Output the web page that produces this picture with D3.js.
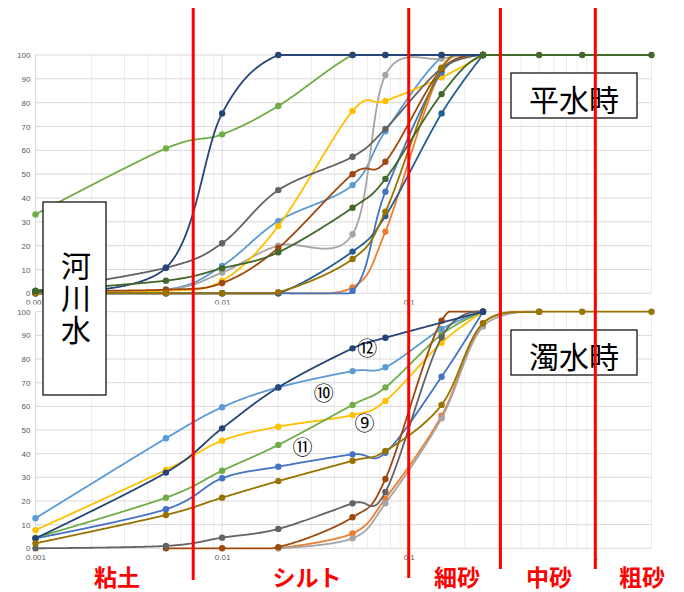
<!DOCTYPE html>
<html><head><meta charset="utf-8">
<script src="https://cdn.jsdelivr.net/npm/d3@7"></script>
<style>html,body{margin:0;padding:0;background:#fff;}svg{display:block;}</style>
</head><body>
<script>
// ---- data ----
const sizes = [0.001, 0.005, 0.01, 0.02, 0.05, 0.075, 0.15, 0.25, 0.5, 0.85, 2];
const yTicks = [0,10,20,30,40,50,60,70,80,90,100];
const xTickVals = [0.001, 0.01, 0.1, 1];
const xTickLabels = ["0.001", "0.01", "0.1", "1"];
const colors = {
  lightBlue:"#5B9BD5", orange:"#ED7D31", lightGray:"#A5A5A5", gold:"#FFC000",
  blue:"#4472C4", green:"#70AD47", darkBlue:"#255E91", brown:"#9E480E",
  darkGray:"#636363", olive:"#997300", navy:"#264478", darkGreen:"#43682B"
};
// 平水時 (normal flow)
const normalLightBlue = [0, 1.5, 11.5, 30.3, 45.4, 68, 99, 100];
const normalOrange    = [0, 0, 0, 0, 2.5, 25.9, 94, 100];
const normalLightGray = [0.5, 1.5, 8.7, 20, 24.8, 91.6, 98.5, 100];
const normalGold      = [0.5, 1, 5.3, 28.2, 76.5, 80.7, 90.6, 100];
const normalBlue      = [0, 0, 0, 0, 1, 42.6, 92.7, 100];
const normalGreen     = [33.1, 60.8, 66.7, 78.6, 100, 100, 100, 100];
const normalDarkBlue  = [0, 0, 0, 0, 17.5, 32.4, 75.5, 100];
const normalBrown     = [1, 1.5, 4.3, 19, 50, 55.2, 94, 100];
const normalDarkGray  = [1, 10.7, 21, 43.3, 57.3, 69, 94.4, 100];
const normalOlive     = [0, 0, 0, 0.5, 14.4, 34.2, 94.7, 100];
const normalNavy      = [1, 10.7, 75.5, 100, 100, 100, 100, 100];
const normalDarkGreen = [1, 5.3, 10.5, 17.2, 35.9, 48, 83.6, 100, 100, 100, 100];
// 濁水時 (turbid flow)
const turbidLightBlue = [12.7, 46.5, 59.6, 68, 74.9, 76.5, 92.7, 100];
const turbidOrange    = [null, null, null, 0, 6.3, 21, 56, 95, 100];
const turbidLightGray = [null, null, null, 0, 4.2, 19, 55, 93.7, 100];
const turbidGold      = [7.7, 33.1, 45.5, 51.4, 56.3, 62.3, 86.9, 100];
const turbidBlue      = [4.2, 16.5, 29.6, 34.5, 39.7, 40.4, 72.5, 100];
const turbidGreen     = [4.5, 21.4, 32.8, 43.7, 60.6, 68, 90.4, 100];
const turbidBrown     = [null, 0, 0, 0.5, 13.1, 29.3, 96.2, 100];
const turbidDarkGray  = [0, 1, 4.5, 8.2, 19, 23.8, 89.2, 100];
const turbidNavy      = [4.2, 32, 50.7, 68, 84.5, 89, null, 100];
const turbidOlive     = [2.1, 14.1, 21.4, 28.4, 37, 41.1, 60.6, 95.1, 100, 100, 100];

const normalSeries = [
  [normalLightBlue, colors.lightBlue], [normalOrange, colors.orange], [normalLightGray, colors.lightGray],
  [normalGold, colors.gold], [normalBlue, colors.blue], [normalGreen, colors.green],
  [normalDarkBlue, colors.darkBlue], [normalBrown, colors.brown], [normalDarkGray, colors.darkGray],
  [normalOlive, colors.olive], [normalNavy, colors.navy], [normalDarkGreen, colors.darkGreen]
];
const turbidSeries = [
  [turbidLightBlue, colors.lightBlue], [turbidOrange, colors.orange], [turbidLightGray, colors.lightGray],
  [turbidGold, colors.gold], [turbidBlue, colors.blue], [turbidGreen, colors.green],
  [turbidBrown, colors.brown], [turbidDarkGray, colors.darkGray], [turbidNavy, colors.navy],
  [turbidOlive, colors.olive]
];
const classBounds = [0.007, 0.1, 0.31, 1];
const classNames = ["粘土", "シルト", "細砂", "中砂", "粗砂"];
const circledLabels = [["⑫", 0.06, 85], ["⑩", 0.035, 66], ["⑨", 0.058, 53], ["⑪", 0.027, 43]];

// ---- drawing ----
const W = 684, H = 592;
const svg = d3.select("body").append("svg").attr("width", W).attr("height", H);
const x = d3.scaleLog().domain([0.001, 2]).range([35.5, 651.5]);
const panels = [
  {series: normalSeries, y: d3.scaleLinear().domain([0,100]).range([293.3, 55]), title:"平水時", boxY:73},
  {series: turbidSeries, y: d3.scaleLinear().domain([0,100]).range([548.3, 311.7]), title:"濁水時", boxY:330}
];
const minorTicks = [];
for (let e = -3; e <= 0; e++) for (let m = 1; m <= 9; m++) { const v = m * Math.pow(10, e); if (v <= 2.0001) minorTicks.push(v); }
minorTicks.push(2);

panels.forEach((p, pi) => {
  const g = svg.append("g");
  if (pi === 1) g.append("rect").attr("x", 0).attr("y", 304.5).attr("width", 670).attr("height", 250).attr("fill", "#fff");
  // grid
  g.selectAll(".vg").data(minorTicks).join("line")
    .attr("x1", d => x(d)).attr("x2", d => x(d))
    .attr("y1", p.y(0)).attr("y2", p.y(100))
    .attr("stroke", d => (Math.abs(Math.log10(d) - Math.round(Math.log10(d))) < 1e-9) ? "#d9d9d9" : "#ececec")
    .attr("stroke-width", 1);
  g.selectAll(".hg").data(yTicks).join("line")
    .attr("x1", x(0.001)).attr("x2", x(2))
    .attr("y1", d => p.y(d)).attr("y2", d => p.y(d))
    .attr("stroke", "#d9d9d9").attr("stroke-width", 1);
  // y labels
  const yAxis = d3.axisLeft(p.y).tickValues(yTicks).tickSize(0).tickPadding(5);
  const ya = g.append("g").attr("transform", `translate(${x(0.001)},0)`).call(yAxis);
  ya.select(".domain").remove();
  ya.selectAll("text").attr("font-family", "Liberation Sans, Arial, sans-serif").attr("font-size", 8).attr("fill", "#595959");
  // x labels
  const xAxis = d3.axisBottom(x).tickValues(xTickVals).tickFormat((d, i) => xTickLabels[i]).tickSize(0).tickPadding(6);
  const xa = g.append("g").attr("transform", `translate(0,${p.y(0)})`).call(xAxis);
  xa.select(".domain").remove();
  xa.selectAll("text").attr("font-family", "Liberation Sans, Arial, sans-serif").attr("font-size", 8).attr("fill", "#595959");
  // series (smoothed like the spreadsheet, clamped to the 0–100 plot range)
  const line = d3.line().x(d => x(d[0])).y(d => p.y(d[1])).curve(d3.curveCardinal.tension(0));
  const yTop = p.y(100), yBot = p.y(0);
  p.series.forEach(([vals, col]) => {
    const pts = vals.map((v, i) => [sizes[i], v]).filter(d => d[1] !== null);
    const path = g.append("path").attr("d", line(pts)).attr("fill", "none")
      .attr("stroke", col).attr("stroke-width", 1.8).attr("stroke-linejoin", "round");
    const node = path.node(), L = node.getTotalLength();
    const sampled = [];
    for (let s = 0; s <= L; s += 0.75) {
      const q = node.getPointAtLength(s);
      sampled.push([q.x, Math.max(yTop, Math.min(yBot, q.y))]);
    }
    const qe = node.getPointAtLength(L);
    sampled.push([qe.x, Math.max(yTop, Math.min(yBot, qe.y))]);
    path.attr("d", d3.line()(sampled));
    g.selectAll(null).data(pts).join("circle")
      .attr("cx", d => x(d[0])).attr("cy", d => p.y(d[1])).attr("r", 3.2).attr("fill", col);
  });
});
// circled labels
const pb = panels[1];
svg.selectAll(".circ").data(circledLabels).join("text")
  .attr("x", d => x(d[1])).attr("y", d => pb.y(d[2]))
  .attr("text-anchor", "middle").attr("dominant-baseline", "central")
  .attr("font-family", "Noto Sans CJK JP").attr("font-size", 20).attr("fill", "#000")
  .text(d => d[0]);

// boxes
function box(x0, y0, w, h) {
  svg.append("rect").attr("x", x0).attr("y", y0).attr("width", w).attr("height", h)
    .attr("fill", "#fff").attr("stroke", "#000").attr("stroke-width", 1.2);
}
panels.forEach(p => {
  box(511, p.boxY, 126, 45);
  svg.append("text").attr("x", 574).attr("y", p.boxY + 25)
    .attr("text-anchor", "middle").attr("dominant-baseline", "central")
    .attr("font-family", "Noto Sans CJK JP").attr("font-size", 30).attr("fill", "#000").text(p.title);
});
box(43, 202, 63, 193);
svg.append("text").attr("x", 76).attr("y", 299)
  .attr("writing-mode", "vertical-rl").attr("text-anchor", "middle")
  .attr("letter-spacing", 2)
  .attr("font-family", "Noto Sans CJK JP").attr("font-size", 30).attr("fill", "#000").text("河川水");

// red class boundaries
const redEnds = [580, 578, 569, 569];
svg.selectAll(".rb").data(classBounds).join("line")
  .attr("x1", d => x(d)).attr("x2", d => x(d))
  .attr("y1", 8).attr("y2", (d, i) => redEnds[i])
  .attr("stroke", "#ff0000").attr("stroke-width", 3);
const nameX = [117, 307, 457, 549, 642];
svg.selectAll(".cn").data(classNames).join("text")
  .attr("x", (d, i) => nameX[i]).attr("y", 576)
  .attr("text-anchor", "middle").attr("dominant-baseline", "central")
  .attr("font-family", "Noto Sans CJK JP").attr("font-weight", "bold").attr("font-size", 23)
  .attr("fill", "#ff0000").text(d => d);
</script>
</body></html>
